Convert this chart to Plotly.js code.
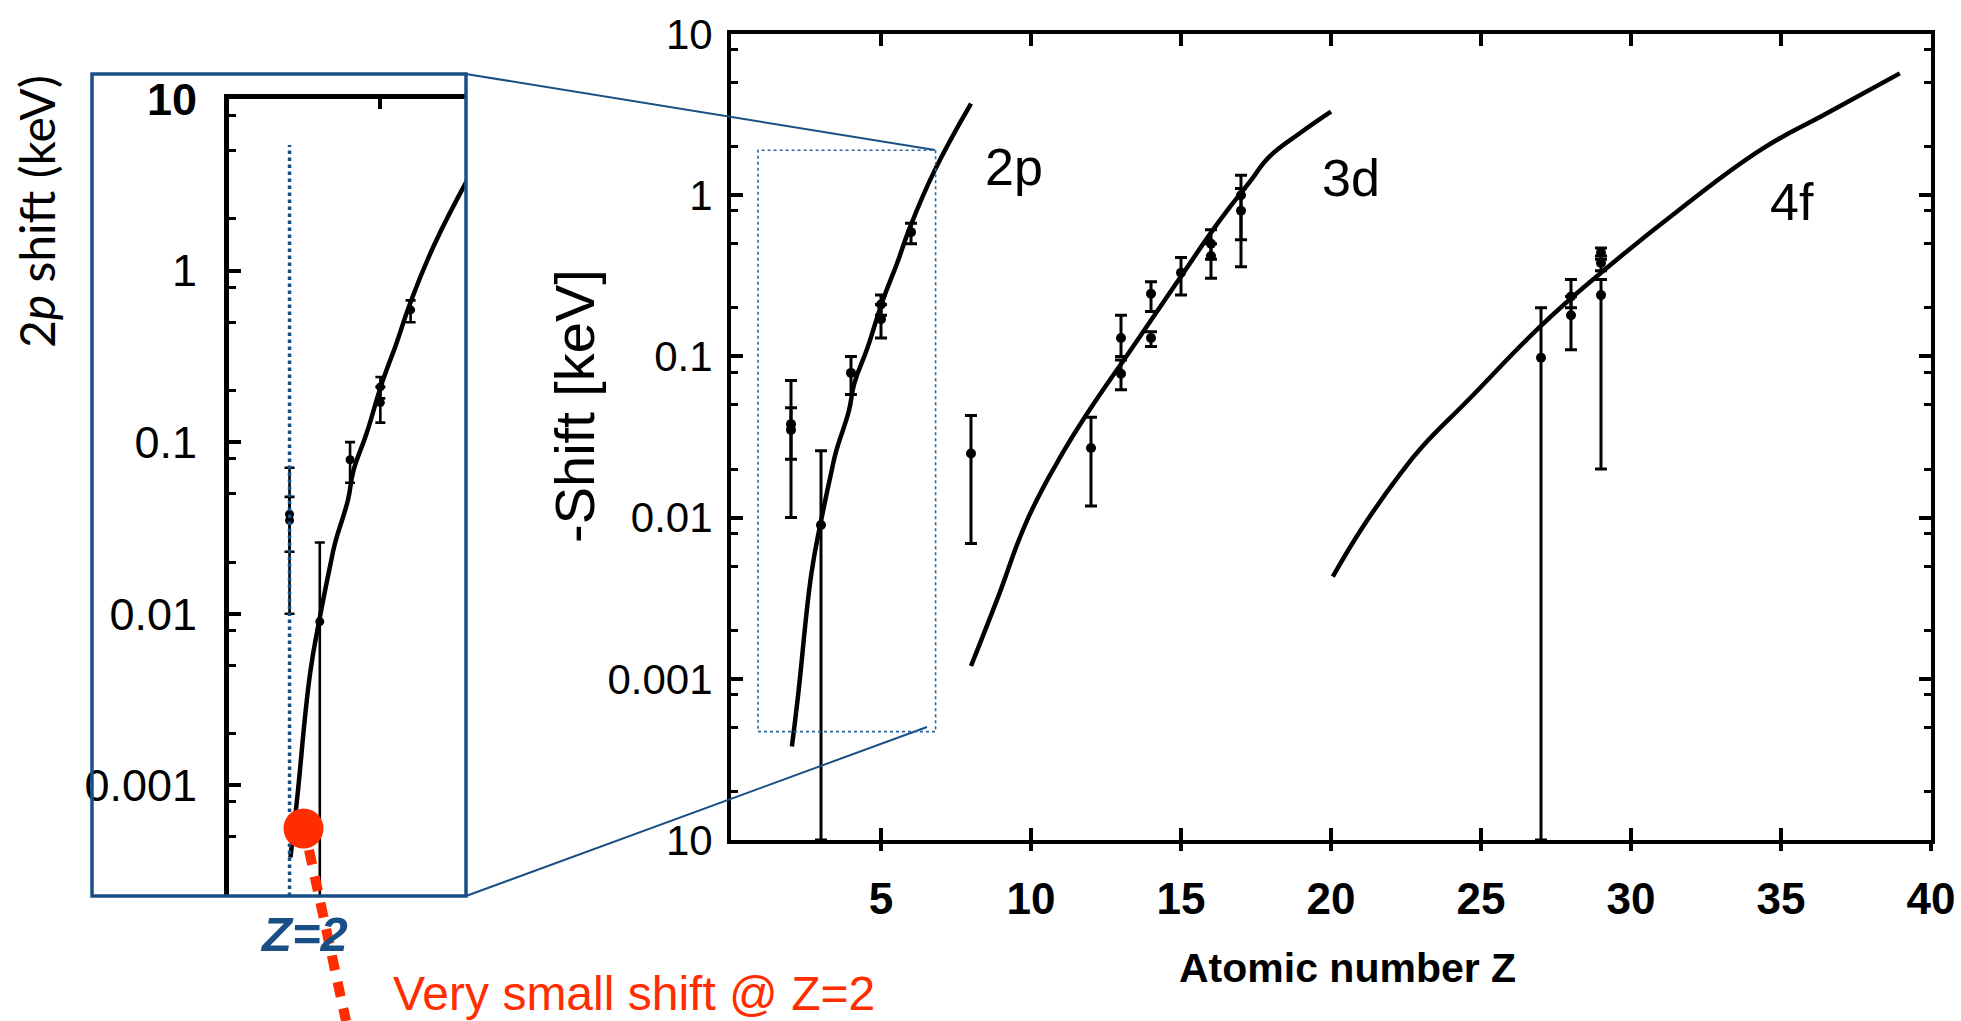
<!DOCTYPE html>
<html><head><meta charset="utf-8">
<script src="https://cdn.plot.ly/plotly-3.0.1.min.js"></script>
<style>html,body{margin:0;padding:0;background:#fff}#chart{width:1961px;height:1021px}</style>
</head><body><div id="chart"></div>
<script>
// ---- calculated shift curves ----
const curve2pZ     = [2.03, 2.24, 2.68, 3.0, 3.34, 3.51, 3.93, 4.11, 4.55, 5.05, 5.54, 5.95, 6.77, 8.0];
const curve2pShift = [0.00038, 0.0008, 0.0045, 0.0095, 0.019, 0.026, 0.046, 0.068, 0.113, 0.22, 0.38, 0.62, 1.4, 3.7];
const curve3dZ     = [8.0, 8.87, 9.91, 11.1, 11.9, 13.33, 14.82, 16.3, 17.35, 17.9, 18.97, 20.0];
const curve3dShift = [0.0012, 0.0031, 0.010, 0.026, 0.045, 0.11, 0.28, 0.70, 1.25, 1.7, 2.43, 3.3];
const curve4fZ     = [20.06, 21.07, 22.34, 23.04, 24.59, 26.97, 29.0, 31.6, 34.4, 36.5, 38.96];
const curve4fShift = [0.0043, 0.0088, 0.019, 0.0275, 0.054, 0.153, 0.33, 0.81, 1.95, 3.2, 5.7];

// ---- measured shifts with error ranges ----
const measZ     = [2, 2, 3, 4, 5, 5, 6, 8, 12, 13, 13, 14, 14, 15, 16, 16, 17, 17, 27, 28, 28, 29, 29, 29];
const measShift = [0.038, 0.035, 0.009, 0.079, 0.21, 0.17, 0.59, 0.025, 0.027, 0.13, 0.078, 0.245, 0.13, 0.33, 0.50, 0.42, 1.0, 0.80, 0.098, 0.235, 0.18, 0.44, 0.38, 0.24];
const measHigh  = [0.071, 0.048, 0.026, 0.10, 0.24, 0.21, 0.67, 0.043, 0.042, 0.18, 0.095, 0.29, 0.142, 0.41, 0.61, 0.50, 1.33, 1.10, 0.20, 0.30, 0.235, 0.47, 0.42, 0.30];
const measLow   = [0.010, 0.023, 0.0001, 0.058, 0.18, 0.13, 0.50, 0.0069, 0.0118, 0.10, 0.062, 0.19, 0.115, 0.24, 0.40, 0.305, 0.53, 0.36, 0.0001, 0.20, 0.11, 0.40, 0.34, 0.02];

// ---- tick labels ----
const xTickVals = [5, 10, 15, 20, 25, 30, 35, 40];
const xTickText = ['5', '10', '15', '20', '25', '30', '35', '40'];
const yTickVals = [0.0001, 0.001, 0.01, 0.1, 1, 10];
const yTickText = ['10', '0.001', '0.01', '0.1', '1', '10'];
const yMinorVals = [0.0002, 0.0005, 0.0008, 0.002, 0.005, 0.008, 0.02, 0.05, 0.08, 0.2, 0.5, 0.8, 2, 5, 8];
const insetTickVals = [0.001, 0.01, 0.1, 1, 10];
const insetTickText = ['0.001', '0.01', '0.1', '1', '<b>10</b>'];
const curveLabels = ['2p', '3d', '4f'];

// ---- helpers ----
const W = 1961, H = 1021;
const px = v => v / W;
const py = v => 1 - v / H;
const BLUE = '#1a4f85';
const RED = '#ff2d00';
const SANS = 'Liberation Sans, Arial, Helvetica, sans-serif';

const errPlus = measShift.map((v, i) => measHigh[i] - v);
const errMinus = measShift.map((v, i) => v - measLow[i]);

function curveTrace(x, y, xa, ya, w) {
  return {x: x, y: y, xaxis: xa, yaxis: ya, type: 'scatter', mode: 'lines',
    line: {color: '#000', width: w, shape: 'spline', smoothing: 1.3}, hoverinfo: 'skip', showlegend: false};
}
function dataTrace(idx, xa, ya, msize, th, cw) {
  return {x: idx.map(i => measZ[i]), y: idx.map(i => measShift[i]), xaxis: xa, yaxis: ya,
    type: 'scatter', mode: 'markers', marker: {color: '#000', size: msize},
    error_y: {type: 'data', symmetric: false, array: idx.map(i => errPlus[i]), arrayminus: idx.map(i => errMinus[i]),
      color: '#000', thickness: th, width: cw}, showlegend: false};
}
const allIdx = measZ.map((_, i) => i);
const insetIdx = allIdx.filter(i => measZ[i] < 7.5);

const traces = [
  curveTrace(curve2pZ, curve2pShift, 'x', 'y', 4.5),
  curveTrace(curve3dZ, curve3dShift, 'x', 'y', 4.5),
  curveTrace(curve4fZ, curve4fShift, 'x', 'y', 4.5),
  dataTrace(allIdx, 'x', 'y', 10, 3, 6),
  curveTrace(curve2pZ, curve2pShift, 'x2', 'y2', 4.5),
  dataTrace(insetIdx, 'x2', 'y2', 9, 2.6, 5),
  {x: [], y: [], xaxis: 'x3', yaxis: 'y', type: 'scatter', mode: 'lines', showlegend: false, hoverinfo: 'skip'}
];

function ann(x, y, text, font, extra) {
  return Object.assign({xref: 'paper', yref: 'paper', x: x, y: y, text: text, showarrow: false,
    xanchor: 'center', yanchor: 'middle', font: font}, extra || {});
}

const layout = {
  width: W, height: H, autosize: false,
  margin: {l: 0, r: 0, t: 0, b: 0, pad: 0},
  paper_bgcolor: '#fff', plot_bgcolor: 'rgba(0,0,0,0)',
  showlegend: false,
  xaxis: {
    domain: [px(731), px(1931)], range: [0, 40], anchor: 'y',
    showline: true, linewidth: 4, linecolor: '#000', mirror: 'ticks',
    ticks: 'inside', ticklen: 12, tickwidth: 4, tickcolor: '#000',
    tickmode: 'array', tickvals: xTickVals, ticktext: xTickText,
    tickfont: {family: SANS, size: 44, color: '#000', weight: 'bold'},
    ticklabelstandoff: 17,
    showgrid: false, zeroline: false
  },
  xaxis3: {
    overlaying: 'x', anchor: 'y', range: [0, 40], side: 'bottom',
    showline: false, ticks: 'outside', ticklen: 10, tickwidth: 4, tickcolor: '#000',
    tickmode: 'array', tickvals: xTickVals, showticklabels: false,
    showgrid: false, zeroline: false
  },
  yaxis: {
    domain: [py(840), py(34)], type: 'log', range: [-4, 1], anchor: 'x',
    showline: true, linewidth: 4, linecolor: '#000', mirror: 'ticks',
    ticks: 'inside', ticklen: 12, tickwidth: 4, tickcolor: '#000',
    tickmode: 'array', tickvals: yTickVals, ticktext: yTickText,
    minor: {tickmode: 'array', tickvals: yMinorVals, ticks: 'inside', ticklen: 7, tickwidth: 3, tickcolor: '#000', showgrid: false},
    tickfont: {family: SANS, size: 42, color: '#000'}, ticklabelstandoff: 6,
    showgrid: false, zeroline: false
  },
  xaxis2: {
    domain: [px(229), px(466)], range: [0, 7.83], anchor: 'y2', side: 'top',
    showline: true, linewidth: 5, linecolor: '#000', mirror: false,
    ticks: 'inside', ticklen: 10, tickwidth: 4, tickcolor: '#000',
    tickmode: 'array', tickvals: [5], showticklabels: false,
    showgrid: false, zeroline: false
  },
  yaxis2: {
    domain: [py(896), py(99)], type: 'log', range: [-3.645, 1], anchor: 'x2',
    showline: true, linewidth: 5, linecolor: '#000', mirror: false,
    ticks: 'inside', ticklen: 12, tickwidth: 4, tickcolor: '#000',
    tickmode: 'array', tickvals: insetTickVals, ticktext: insetTickText,
    minor: {tickmode: 'array', tickvals: yMinorVals, ticks: 'inside', ticklen: 7, tickwidth: 3, tickcolor: '#000', showgrid: false},
    tickfont: {family: SANS, size: 45, color: '#000'}, ticklabelstandoff: 18,
    showgrid: false, zeroline: false
  },
  shapes: [
    {type: 'rect', xref: 'paper', yref: 'paper', x0: px(92), x1: px(466), y0: py(896), y1: py(74),
      line: {color: BLUE, width: 3.5}, fillcolor: 'rgba(0,0,0,0)'},
    {type: 'line', xref: 'paper', yref: 'paper', x0: px(466), y0: py(74), x1: px(935), y1: py(150),
      line: {color: BLUE, width: 2}},
    {type: 'line', xref: 'paper', yref: 'paper', x0: px(466), y0: py(896), x1: px(927), y1: py(727),
      line: {color: BLUE, width: 2}},
    {type: 'rect', xref: 'x', yref: 'y', x0: 0.9, x1: 6.82, y0: 0.00047, y1: 1.9,
      line: {color: '#2a64a0', width: 1.6, dash: 'dot'}, fillcolor: 'rgba(0,0,0,0)'},
    {type: 'line', xref: 'x2', yref: 'paper', x0: 2, x1: 2, y0: py(896), y1: py(145),
      line: {color: BLUE, width: 3.5, dash: 'dot'}},
    {type: 'line', xref: 'paper', yref: 'paper', x0: px(309), y0: py(850), x1: px(346), y1: py(1021),
      line: {color: RED, width: 10, dash: '15px,12px'}},
    {type: 'circle', xref: 'paper', yref: 'paper', x0: px(283.5), x1: px(323.5), y0: py(848.5), y1: py(808.5),
      line: {color: RED, width: 0}, fillcolor: RED}
  ],
  annotations: [
    {xref: 'x', yref: 'y', x: 9.43, y: 0.175, text: curveLabels[0], showarrow: false, xanchor: 'center', yanchor: 'middle',
      font: {family: SANS, size: 52, color: '#000'}},
    {xref: 'x', yref: 'y', x: 20.67, y: 0.107, text: curveLabels[1], showarrow: false, xanchor: 'center', yanchor: 'middle',
      font: {family: SANS, size: 52, color: '#000'}},
    {xref: 'x', yref: 'y', x: 35.37, y: -0.042, text: curveLabels[2], showarrow: false, xanchor: 'center', yanchor: 'middle',
      font: {family: SANS, size: 52, color: '#000'}},
    ann(px(574), py(406), '-Shift [keV]', {family: SANS, size: 56, color: '#000'}, {textangle: -90}),
    ann(px(1347), py(968), 'Atomic number Z', {family: SANS, size: 41, color: '#000', weight: 'bold'}),
    ann(px(36), py(212), '2<i>p</i> shift (keV)', {family: 'Lato, Open Sans, sans-serif', size: 48, color: '#000'}, {textangle: -90}),
    ann(px(304), py(934), '<b><i>Z=2</i></b>', {family: SANS, size: 49, color: BLUE}),
    ann(px(391), py(993), 'Very small shift @ Z=2', {family: SANS, size: 48, color: RED}, {xanchor: 'left'})
  ]
};

Plotly.newPlot('chart', traces, layout, {staticPlot: true, displayModeBar: false});
</script>
</body></html>
